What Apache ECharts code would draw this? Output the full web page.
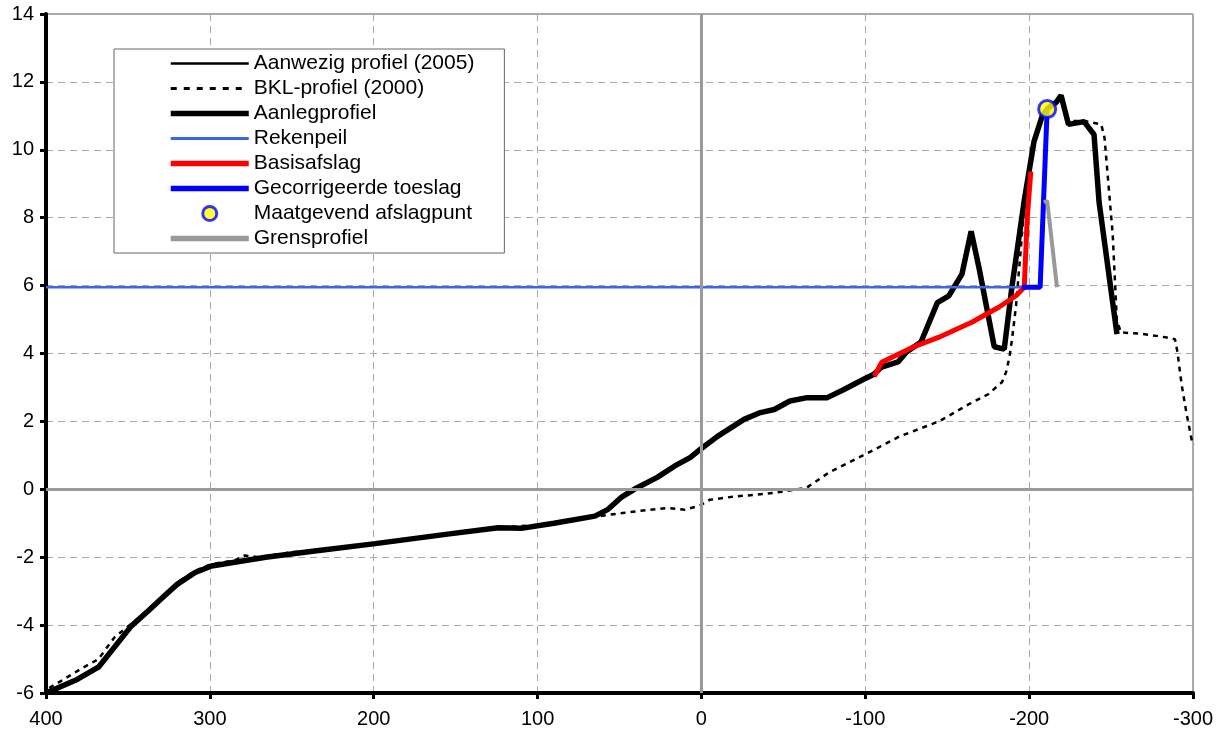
<!DOCTYPE html>
<html>
<head>
<meta charset="utf-8">
<script src="https://cdn.jsdelivr.net/npm/echarts@6/dist/echarts.min.js"></script>
<style>
  html, body { margin: 0; padding: 0; background: #fff; }
  #chart { width: 1226px; height: 740px; }
</style>
</head>
<body>
<div id="chart"></div>
<script>
// data: [afstand, hoogte]
const aanlegProfiel = [
  [400, -6], [381, -5.6], [368, -5.24], [348, -4.03], [338, -3.6], [330, -3.24],
  [320, -2.8], [309, -2.45], [299, -2.26], [266, -2.0], [236, -1.82], [199, -1.6],
  [155, -1.32], [124, -1.13], [110, -1.15], [90, -1.0], [65, -0.79], [57, -0.59],
  [49, -0.24], [41, 0], [27, 0.35], [16.5, 0.68], [6.7, 0.94], [0.6, 1.18],
  [-9.8, 1.56], [-26, 2.06], [-36, 2.26], [-44.5, 2.35], [-54, 2.6], [-64.6, 2.7],
  [-76.8, 2.7], [-87, 2.94], [-99, 3.24], [-105, 3.38], [-110, 3.6], [-120, 3.75],
  [-125, 4.04], [-134, 4.34], [-144, 5.5], [-151, 5.7], [-159, 6.34], [-164.6, 7.6],
  [-169.5, 6.5], [-178.7, 4.2], [-184.8, 4.13], [-189.6, 6.0], [-197, 8.5],
  [-203, 10.25], [-208, 11.0], [-211, 11.2], [-216.5, 11.4], [-219.5, 11.6],
  [-224, 10.75], [-233.5, 10.83], [-239.6, 10.45], [-242.7, 8.45], [-253.6, 4.57]
];
const aanwezigProfiel = aanlegProfiel;
const bklProfiel = [
  [398, -5.85], [391, -5.65], [379, -5.3], [368, -5.0], [358, -4.35], [345, -3.85],
  [330, -3.2], [320, -2.75], [309, -2.4], [299, -2.2], [285, -2.1], [279, -1.95],
  [270, -2.0], [250, -1.85], [236, -1.8], [199, -1.62], [155, -1.35], [124, -1.13],
  [100, -1.05], [80, -0.9], [64, -0.8], [42, -0.66], [21, -0.55], [10, -0.6],
  [1, -0.48], [-5, -0.31], [-19, -0.22], [-40, -0.13], [-49, -0.07], [-64, 0.04],
  [-78, 0.5], [-100, 1.03], [-121, 1.56], [-145, 2.0], [-163, 2.5], [-175, 2.8],
  [-183.5, 3.16], [-186, 3.46], [-188, 3.9], [-189.5, 4.4], [-192, 5.4], [-197, 8.3],
  [-203, 10.2], [-208, 11.0], [-212, 11.3], [-216, 11.4], [-220, 11.55], [-224, 10.85],
  [-234, 10.85], [-244, 10.75], [-246, 10.35], [-251, 7.5], [-253.5, 5.0], [-256, 4.62],
  [-269, 4.58], [-283, 4.48], [-289, 4.42], [-290.5, 4.05], [-293, 3.1], [-296, 2.25],
  [-298, 1.75], [-299.5, 1.38], [-304, 1.3], [-311, 1.25]
];
const rekenpeil = [[400, 5.95], [-196, 5.95]];
const basisafslag = [
  [-105.5, 3.33], [-110, 3.74], [-128.7, 4.18], [-145, 4.48], [-165, 4.92],
  [-181.7, 5.37], [-192, 5.7], [-197, 5.95], [-198.8, 7.95], [-201, 9.36]
];
const gecorrigeerdeToeslag = [[-195.7, 5.95], [-206.7, 5.95], [-211, 11.2]];
const afslagpunt = [[-211, 11.2]];
const grensprofiel = [[-209, 8.45], [-211, 8.5], [-217, 5.95]];

const font = "Liberation Sans, Arial, sans-serif";

function line(name, data, color, width, type, extra) {
  return Object.assign({
    name: name,
    type: "line",
    data: data,
    symbol: "none",
    color: color,
    lineStyle: { color: color, width: width, type: type || "solid" }
  }, extra || {});
}

// legend entry for a line: hide the dot, keep the line width
function legendLine(name, width, type) {
  return {
    name: name,
    itemStyle: { opacity: 0 },
    lineStyle: { width: width, type: type || "solid" }
  };
}

const chart = echarts.init(document.getElementById("chart"));

const option = {
  animation: false,
  grid: {
    left: 46, right: 33, top: 14, bottom: 47,
    show: true, borderColor: "#555", borderWidth: 1
  },
  legend: {
    orient: "vertical",
    left: 114, top: 49,
    padding: [4, 30, 4, 54],
    borderColor: "#666", borderWidth: 1,
    backgroundColor: "#fff",
    itemWidth: 78, itemHeight: 14, itemGap: 4,
    textStyle: { fontFamily: font, fontSize: 21, color: "#000", lineHeight: 21 },
    data: [
      legendLine("Aanwezig profiel (2005)", 2.5),
      legendLine("BKL-profiel (2000)", 3, [6, 7]),
      legendLine("Aanlegprofiel", 5.5),
      legendLine("Rekenpeil", 3),
      legendLine("Basisafslag", 5.5),
      legendLine("Gecorrigeerde toeslag", 5.5),
      { name: "Maatgevend afslagpunt", itemStyle: { borderWidth: 3, borderColor: "#0000ff" } },
      legendLine("Grensprofiel", 5.5)
    ]
  },
  xAxis: {
    type: "value",
    inverse: true,
    min: -300, max: 400, interval: 100,
    axisLine: { show: true, onZero: false, lineStyle: { color: "#000", width: 4 } },
    axisTick: { show: true, length: 6, lineStyle: { color: "#000", width: 3 } },
    axisLabel: { fontFamily: font, fontSize: 20, color: "#000", margin: 16 },
    splitLine: { show: true, lineStyle: { color: "#aaa", width: 1, type: [7, 5] } }
  },
  yAxis: {
    type: "value",
    min: -6, max: 14, interval: 2,
    axisLine: { show: true, onZero: false, lineStyle: { color: "#000", width: 4 } },
    axisTick: { show: true, length: 6, lineStyle: { color: "#000", width: 3 } },
    axisLabel: { fontFamily: font, fontSize: 20, color: "#000", margin: 12 },
    splitLine: { show: true, lineStyle: { color: "#aaa", width: 1, type: [7, 5] } }
  },
  series: [
    line("Aanwezig profiel (2005)", aanwezigProfiel, "#000", 2, "solid", {
      markLine: {
        silent: true,
        symbol: "none",
        label: { show: false },
        lineStyle: { color: "#999", width: 3, type: "solid" },
        data: [{ xAxis: 0 }, { yAxis: 0 }]
      }
    }),
    line("BKL-profiel (2000)", bklProfiel, "#000", 2.5, [5, 5], { clip: false }),
    line("Aanlegprofiel", aanlegProfiel, "#000", 5.5),
    line("Rekenpeil", rekenpeil, "#3a66e8", 2.5),
    line("Basisafslag", basisafslag, "#ff0000", 5),
    line("Gecorrigeerde toeslag", gecorrigeerdeToeslag, "#0000ff", 5),
    {
      name: "Maatgevend afslagpunt",
      type: "scatter",
      data: afslagpunt,
      symbol: "circle",
      symbolSize: 17,
      z: 5,
      itemStyle: { color: "#ffff00", borderColor: "#0000ff", borderWidth: 3 }
    },
    line("Grensprofiel", grensprofiel, "#999", 4)
  ]
};

chart.setOption(option);
</script>
</body>
</html>
